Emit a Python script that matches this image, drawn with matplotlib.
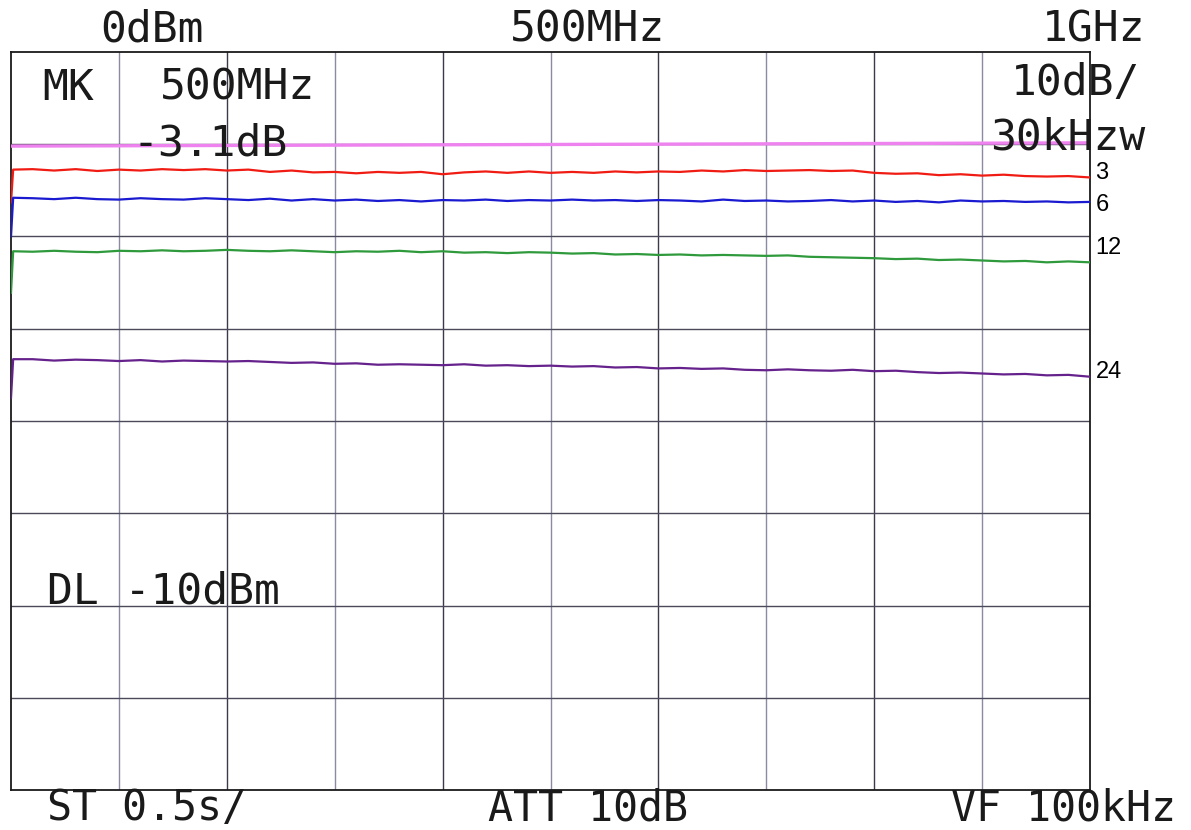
import numpy as np
import matplotlib.pyplot as plt

# sweep points (MHz) shared by all traces
freq = [0, 2, 20, 40, 60, 80, 100, 120, 140, 160, 180, 200, 220, 240, 260, 280,
        300, 320, 340, 360, 380, 400, 420, 440, 460, 480, 500, 520, 540, 560, 580,
        600, 620, 640, 660, 680, 700, 720, 740, 760, 780, 800, 820, 840, 860, 880,
        900, 920, 940, 960, 980, 1000]

# trace levels in dBm
red = [-16.3, -12.75, -12.7, -12.85, -12.7, -12.9, -12.75, -12.85, -12.7, -12.8,
       -12.7, -12.85, -12.75, -13.0, -12.85, -13.05, -13.0, -13.15, -13.0, -13.1,
       -13.0, -13.25, -13.05, -12.95, -13.1, -12.95, -13.1, -13.0, -13.1, -12.95,
       -13.05, -12.95, -13.0, -12.85, -12.95, -12.8, -12.9, -12.85, -12.8, -12.9,
       -12.85, -13.1, -13.2, -13.15, -13.35, -13.25, -13.4, -13.3, -13.45, -13.5,
       -13.45, -13.6]
blue = [-20.0, -15.8, -15.85, -15.95, -15.8, -15.95, -16.0, -15.85, -15.95, -16.0,
        -15.85, -15.95, -16.05, -15.9, -16.1, -15.95, -16.1, -16.0, -16.15, -16.05,
        -16.2, -16.05, -16.1, -16.0, -16.15, -16.05, -16.1, -16.0, -16.1, -16.05,
        -16.15, -16.05, -16.1, -16.2, -16.0, -16.15, -16.1, -16.2, -16.15, -16.05,
        -16.2, -16.1, -16.25, -16.15, -16.3, -16.1, -16.2, -16.15, -16.25, -16.2,
        -16.3, -16.25]
green = [-26.1, -21.6, -21.65, -21.55, -21.65, -21.7, -21.55, -21.6, -21.5, -21.6,
         -21.55, -21.45, -21.55, -21.6, -21.5, -21.6, -21.7, -21.6, -21.65, -21.55,
         -21.7, -21.6, -21.75, -21.7, -21.8, -21.7, -21.75, -21.85, -21.8, -21.95,
         -21.9, -22.0, -21.95, -22.05, -22.0, -22.05, -22.1, -22.05, -22.2, -22.25,
         -22.3, -22.35, -22.45, -22.4, -22.55, -22.5, -22.6, -22.7, -22.65, -22.8,
         -22.7, -22.8]
purple = [-37.5, -33.3, -33.3, -33.45, -33.35, -33.4, -33.5, -33.4, -33.55, -33.45,
          -33.5, -33.55, -33.5, -33.6, -33.7, -33.65, -33.8, -33.75, -33.9, -33.85,
          -33.9, -33.95, -33.85, -34.0, -33.95, -34.05, -34.0, -34.1, -34.05, -34.2,
          -34.15, -34.3, -34.25, -34.35, -34.3, -34.45, -34.5, -34.4, -34.5, -34.55,
          -34.45, -34.6, -34.55, -34.7, -34.8, -34.75, -34.85, -34.95, -34.9, -35.05,
          -35.0, -35.2]

# display line (DL -10dBm), drawn slightly skewed as on the printout
dl_f = [0, 1000]
dl_level = [-10.2, -9.85]

atten = ['3', '6', '12', '24']
atten_y = [-13.1, -16.6, -21.3, -34.7]

x_ticks = [0, 100, 200, 300, 400, 500, 600, 700, 800, 900, 1000]
y_ticks = [-80, -70, -60, -50, -40, -30, -20, -10, 0]

W, H = 1191, 830
fig = plt.figure(figsize=(W / 100, H / 100), dpi=100)
ax = fig.add_axes([11 / W, 1 - 790 / H, (1090 - 11) / W, (790 - 52) / H])
ax.set_xlim(0, 1000)
ax.set_ylim(-80, 0)
ax.set_xticks([])
ax.set_yticks([])
for s in ax.spines.values():
    s.set_color('#1a1a1a')
    s.set_linewidth(1.3)

# graticule
for i, xv in enumerate(x_ticks[1:-1]):
    ax.axvline(xv, color='#3a3a4a' if i % 2 else '#8a8aa0', lw=1.0, zorder=1)
for yv in y_ticks[1:-1]:
    ax.axhline(yv, color='#4a4a5a', lw=1.0, zorder=1)

ax.plot(dl_f, dl_level, color='#ee82ee', lw=2.4, zorder=3)
ax.plot(freq, red, color='#f01c14', lw=1.6, zorder=4)
ax.plot(freq, blue, color='#1a1ad0', lw=1.6, zorder=4)
ax.plot(freq, green, color='#2e9a3c', lw=1.6, zorder=4)
ax.plot(freq, purple, color='#66228c', lw=1.6, zorder=4)

for lab, yv in zip(atten, atten_y):
    ax.text(1005, yv, lab, fontsize=17, family='Liberation Sans',
            va='center', ha='left', clip_on=False)

mono = dict(family='DejaVu Sans Mono', fontsize=31, color='#1a1a1a', va='baseline')


def ptext(x, y, s, ha='left', **kw):
    opts = dict(mono)
    opts.update(kw)
    fig.text(x / W, 1 - y / H, s, ha=ha, **opts)


ptext(100, 42, '0dBm')
ptext(510, 42, '500MHz')
ptext(1145, 42, '1GHz', ha='right')
ptext(42, 100, 'MK')
ptext(160, 100, '500MHz')
ptext(1140, 95, '10dB/', ha='right')
ptext(133, 155, '-3.1dB')
ptext(1145, 150, '30kHzw', ha='right')
ptext(47, 603, 'DL -10dBm')
ptext(47, 820, 'ST 0.5s/', fontsize=30)
ptext(488, 820, 'ATT 10dB', fontsize=30)
ptext(1176, 820, 'VF 100kHz', ha='right', fontsize=30)

fig.savefig('out.png', dpi=100, facecolor='white')
